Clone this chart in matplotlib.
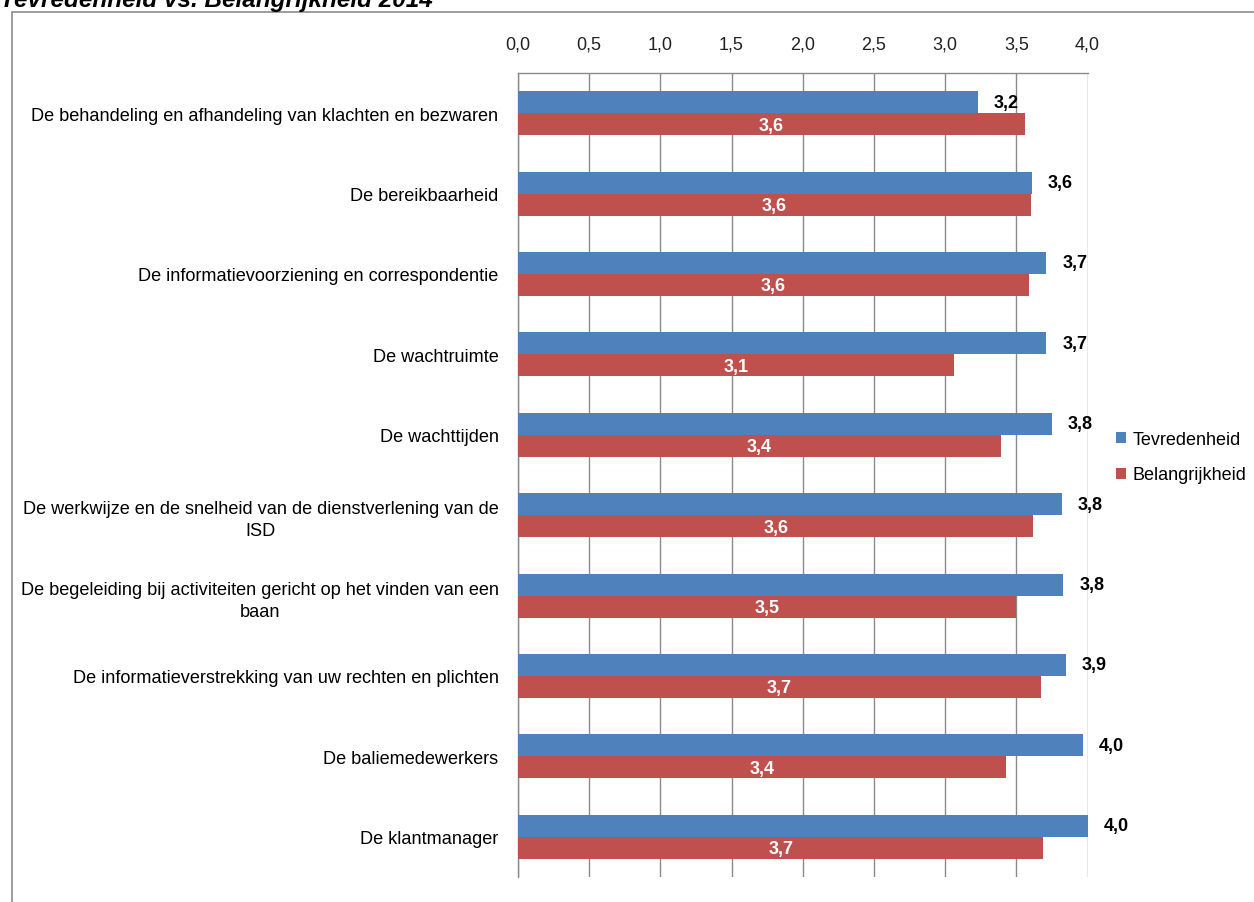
import matplotlib
matplotlib.use("Agg")
import matplotlib.pyplot as plt
from matplotlib.patches import Rectangle
import numpy as np

categories = [
    "De behandeling en afhandeling van klachten en bezwaren",
    "De bereikbaarheid",
    "De informatievoorziening en correspondentie",
    "De wachtruimte",
    "De wachttijden",
    "De werkwijze en de snelheid van de dienstverlening van de\nISD",
    "De begeleiding bij activiteiten gericht op het vinden van een\nbaan",
    "De informatieverstrekking van uw rechten en plichten",
    "De baliemedewerkers",
    "De klantmanager",
]
tevredenheid = [3.23, 3.61, 3.71, 3.71, 3.75, 3.82, 3.83, 3.85, 3.97, 4.00]
belangrijkheid = [3.56, 3.60, 3.59, 3.06, 3.39, 3.62, 3.50, 3.67, 3.43, 3.69]
xticks = [0.0, 0.5, 1.0, 1.5, 2.0, 2.5, 3.0, 3.5, 4.0]
series_names = ["Tevredenheid", "Belangrijkheid"]
title = "Tevredenheid vs. Belangrijkheid 2014"

BLUE = "#4F81BD"
RED = "#C0504D"
W, H = 1254, 903

plt.rcParams['font.family'] = ['Liberation Sans', 'DejaVu Sans']

fig = plt.figure(figsize=(W / 100, H / 100), dpi=100)
fig.patch.set_facecolor("white")

# outer chart border
fig.patches.append(Rectangle((12 / W, -0.01), 1.02, 1 - 13 / H + 0.01,
                             transform=fig.transFigure, fill=False,
                             edgecolor="#8c8c8c", linewidth=1.2))

ax = fig.add_axes([518 / W, 1 - 878 / H, 569.5 / W, 804 / H])

y = np.arange(len(categories))
bh = 0.274
ax.barh(y - bh / 2, tevredenheid, height=bh, color=BLUE, label=series_names[0], zorder=3)
ax.barh(y + bh / 2, belangrijkheid, height=bh, color=RED, label=series_names[1], zorder=3)

def fmt(v):
    return f"{v:.1f}".replace(".", ",")

for yi, v in zip(y, tevredenheid):
    ax.annotate(fmt(v), xy=(v, yi - bh / 2), xytext=(11.5, 0), textcoords="offset points",
                ha="left", va="center", fontsize=13, fontweight="bold", color="black")
for yi, v in zip(y, belangrijkheid):
    ax.text(v / 2, yi + bh / 2 + 0.01, fmt(v), ha="center", va="center",
            fontsize=13, fontweight="bold", color="white", zorder=4)

ax.set_xlim(0, 4.0)
ax.set_ylim(len(categories) - 0.5, -0.5)
ax.set_xticks(xticks)
ax.set_xticklabels([fmt(t) for t in xticks], fontsize=13, color="#222222")
ax.xaxis.tick_top()
ax.tick_params(axis="x", length=0, pad=15)
ax.set_yticks(y)
ax.set_yticklabels(categories, fontsize=13.1, color="black", multialignment="center",
                   linespacing=1.4)
ax.tick_params(axis="y", length=0, pad=14)

ax.grid(axis="x", color="#8a8a8a", linewidth=1, zorder=0)
ax.set_axisbelow(True)
for s in ["bottom", "right"]:
    ax.spines[s].set_visible(False)
for s in ["top", "left"]:
    ax.spines[s].set_color("#8a8a8a")
    ax.spines[s].set_linewidth(1)

fig.legend(loc="center left", bbox_to_anchor=(1116 / W, 1 - 458 / H),
           frameon=False, fontsize=13, handlelength=0.55, handleheight=0.55,
           handletextpad=0.35, labelspacing=1.05, borderpad=0, borderaxespad=0)

fig.text(0, 1 - 7 / H, title, ha="left", va="baseline", fontsize=17.5,
         fontweight="bold", fontstyle="italic", color="black")

fig.savefig("out.png", dpi=100, facecolor="white")
